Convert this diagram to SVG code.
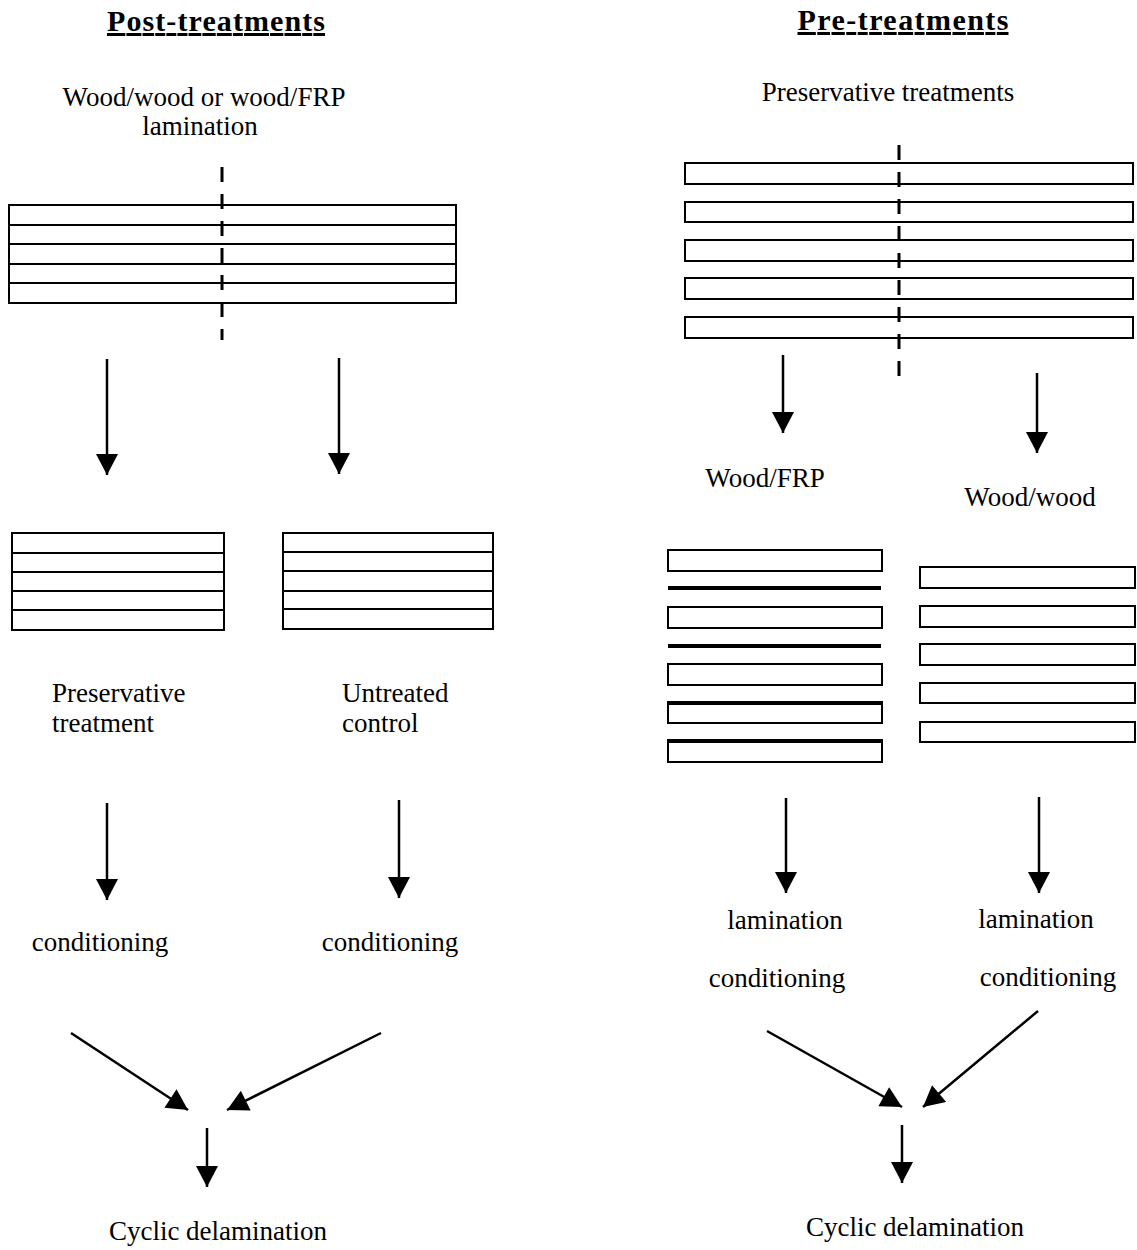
<svg xmlns="http://www.w3.org/2000/svg" width="1137" height="1250" viewBox="0 0 1137 1250">
<defs>
<style>
text{font-family:"Liberation Serif","Times New Roman",serif;font-size:27px;fill:#000}
.title{font-weight:bold;font-size:30px;text-decoration:underline}
.mid{text-anchor:middle}
.strip{fill:#fff;stroke:#000;stroke-width:2}
.ln{stroke:#000;stroke-width:2;fill:none}
.thick{stroke:#000;stroke-width:4;fill:none}
.dash{stroke:#000;stroke-width:3;stroke-dasharray:15 12;fill:none}
.arr{stroke:#000;stroke-width:2.5;fill:none;marker-end:url(#ah)}
</style>
<marker id="ah" markerUnits="userSpaceOnUse" markerWidth="22" markerHeight="22" refX="20" refY="10.5" orient="auto" viewBox="0 0 20 21">
<path d="M0,0 L20,10.5 L0,21 z" fill="#000"/>
</marker>
</defs>
<rect width="1137" height="1250" fill="#fff"/>

<g id="titles">
<text class="title mid" x="216" y="31" textLength="218" lengthAdjust="spacing">Post-treatments</text>
<text class="title mid" x="903" y="30" textLength="211" lengthAdjust="spacing">Pre-treatments</text>
</g>

<g id="label-lamination">
<text class="mid" x="204" y="106">Wood/wood or wood/FRP</text>
<text class="mid" x="200" y="135">lamination</text>
</g>

<g id="label-pres-treatments">
<text class="mid" x="888" y="101">Preservative treatments</text>
</g>

<g id="stack-post-top">
<rect class="strip" x="9" y="205" width="447" height="98"/>
<path class="ln" d="M9,225 H456 M9,244 H456 M9,264 H456 M9,283 H456"/>
<path class="dash" d="M222,167 V340"/>
</g>

<g id="stack-pre-top">
<rect class="strip" x="685" y="163" width="448" height="21"/>
<rect class="strip" x="685" y="202" width="448" height="20"/>
<rect class="strip" x="685" y="240" width="448" height="21"/>
<rect class="strip" x="685" y="278" width="448" height="21"/>
<rect class="strip" x="685" y="317" width="448" height="21"/>
<path class="dash" d="M899,145 V376"/>
</g>

<g id="stack-treated">
<rect class="strip" x="12" y="533" width="212" height="97"/>
<path class="ln" d="M12,553 H224 M12,572 H224 M12,591 H224 M12,610 H224"/>
</g>

<g id="stack-control">
<rect class="strip" x="283" y="533" width="210" height="96"/>
<path class="ln" d="M283,552 H493 M283,571 H493 M283,591 H493 M283,609 H493"/>
</g>

<g id="label-treated">
<text x="52" y="702">Preservative</text>
<text x="52" y="732">treatment</text>
</g>
<g id="label-control">
<text x="342" y="702">Untreated</text>
<text x="342" y="732">control</text>
</g>

<g id="label-woodfrp"><text class="mid" x="765" y="487">Wood/FRP</text></g>
<g id="label-woodwood"><text class="mid" x="1030" y="506">Wood/wood</text></g>

<g id="stack-woodfrp">
<rect class="strip" x="668" y="550" width="214" height="21"/>
<path class="thick" d="M668,588 H881"/>
<rect class="strip" x="668" y="607" width="214" height="21"/>
<path class="thick" d="M668,646 H881"/>
<rect class="strip" x="668" y="664" width="214" height="21"/>
<rect class="strip" x="668" y="702" width="214" height="21"/>
<path class="thick" d="M668,703 H882"/>
<rect class="strip" x="668" y="740" width="214" height="22"/>
<path class="thick" d="M668,741 H882"/>
</g>

<g id="stack-woodwood">
<rect class="strip" x="920" y="567" width="215" height="21"/>
<rect class="strip" x="920" y="606" width="215" height="21"/>
<rect class="strip" x="920" y="644" width="215" height="21"/>
<rect class="strip" x="920" y="683" width="215" height="20"/>
<rect class="strip" x="920" y="722" width="215" height="20"/>
</g>

<g id="label-cond-left"><text class="mid" x="100" y="951">conditioning</text></g>
<g id="label-cond-right"><text class="mid" x="390" y="951">conditioning</text></g>

<g id="label-lamcond-frp">
<text class="mid" x="785" y="929">lamination</text>
<text class="mid" x="777" y="987">conditioning</text>
</g>
<g id="label-lamcond-wood">
<text class="mid" x="1036" y="928">lamination</text>
<text class="mid" x="1048" y="986">conditioning</text>
</g>

<g id="label-cyclic-left"><text class="mid" x="218" y="1240">Cyclic delamination</text></g>
<g id="label-cyclic-right"><text class="mid" x="915" y="1236">Cyclic delamination</text></g>

<g id="connectors">
<path class="arr" d="M107,359 V475"/>
<path class="arr" d="M339,358 V474"/>
<path class="arr" d="M783,355 V433"/>
<path class="arr" d="M1037,373 V453"/>
<path class="arr" d="M107,803 V900"/>
<path class="arr" d="M399,800 V898"/>
<path class="arr" d="M786,798 V893"/>
<path class="arr" d="M1039,797 V893"/>
<path class="arr" d="M71,1033 L188,1110"/>
<path class="arr" d="M381,1033 L227,1110"/>
<path class="arr" d="M207,1128 V1187"/>
<path class="arr" d="M767,1031 L902,1107"/>
<path class="arr" d="M1038,1011 L923,1107"/>
<path class="arr" d="M902,1125 V1183"/>
</g>
</svg>
